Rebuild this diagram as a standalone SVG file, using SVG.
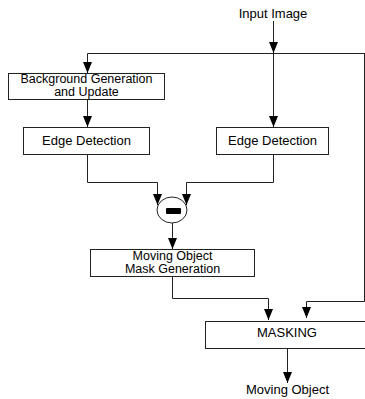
<svg xmlns="http://www.w3.org/2000/svg" width="365" height="399" viewBox="0 0 365 399">
<style>
.box{fill:#fff;stroke:#222;stroke-width:1}
.ln{fill:none;stroke:#222;stroke-width:1}
.t{font-family:"Liberation Sans",Arial,sans-serif;font-size:13px;fill:#000;text-anchor:middle}
</style>
<defs>
<marker id="ah" markerUnits="userSpaceOnUse" markerWidth="11" markerHeight="9" viewBox="0 0 11 9" refX="11" refY="4.5" orient="auto">
<path d="M0,0 L11,4.5 L0,9 z" fill="#000"/>
</marker>
</defs>
<rect width="365" height="399" fill="#fff"/>
<g id="connectors">
<path class="ln" d="M273.5,21 V53" marker-end="url(#ah)" stroke="#555"/>
<path class="ln" d="M87.5,53.5 H366" stroke="#555"/>
<path class="ln" d="M87.5,53.5 V73" marker-end="url(#ah)"/>
<path class="ln" d="M273.5,53.5 V127" marker-end="url(#ah)"/>
<path class="ln" d="M87.5,99 V127" marker-end="url(#ah)"/>
<path class="ln" d="M87.5,155 V182.5 H157.5 V205" marker-end="url(#ah)"/>
<path class="ln" d="M273.5,155 V182.5 H186.5 V205" marker-end="url(#ah)"/>
<path class="ln" d="M172.5,223 V249" marker-end="url(#ah)"/>
<path class="ln" d="M172.5,277 V298.5 H268.5 V320" marker-end="url(#ah)"/>
<path class="ln" d="M364.5,53.5 V301.5 H306.5 V318" marker-end="url(#ah)" stroke="#666"/>
<path class="ln" d="M364.5,53.5 V301.5" stroke="#fff" stroke-opacity="0.6"/>
<path class="ln" d="M287.5,348 V383" marker-end="url(#ah)"/>
</g>
<g id="input"><text class="t" x="273" y="18">Input Image</text></g>
<g id="bg">
<rect class="box" x="8.5" y="73.5" width="156" height="26"/>
<text class="t" x="86.5" y="83" style="font-size:12.5px">Background Generation</text>
<text class="t" x="86.5" y="96" style="font-size:12.5px">and Update</text>
</g>
<g id="edge1">
<rect class="box" x="23.5" y="127.5" width="126" height="27"/>
<text class="t" x="86.5" y="145">Edge Detection</text>
</g>
<g id="edge2">
<rect class="box" x="216.5" y="127.5" width="112" height="27"/>
<text class="t" x="272.5" y="145">Edge Detection</text>
</g>
<g id="subtract">
<ellipse cx="172" cy="210" rx="15" ry="13" fill="#fff" stroke="#222"/>
<rect x="166" y="208" width="15" height="6" rx="1" fill="#000"/>
</g>
<g id="mask-gen">
<rect class="box" x="90.5" y="249.5" width="164" height="27"/>
<text class="t" x="172.5" y="260" style="font-size:12.5px">Moving Object</text>
<text class="t" x="172.5" y="273" style="font-size:12.5px">Mask Generation</text>
</g>
<g id="masking">
<rect class="box" x="205.5" y="321.5" width="165" height="27"/>
<text class="t" x="287" y="337">MASKING</text>
</g>
<g id="output"><text class="t" x="287.5" y="394">Moving Object</text></g>
</svg>
